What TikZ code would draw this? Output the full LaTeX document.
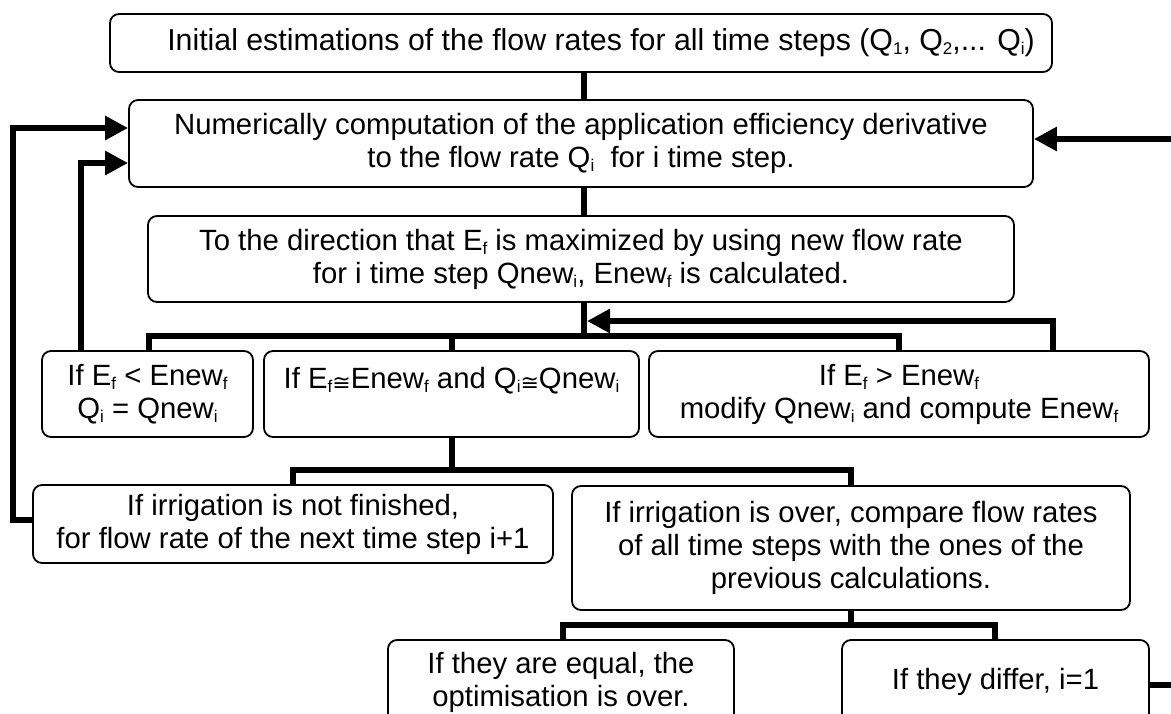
\documentclass[tikz,border=0pt]{standalone}
\usepackage{fontspec}
\setmainfont{Liberation Sans}
\newfontfamily\djv{DejaVu Sans}
\usetikzlibrary{arrows.meta}
\newcommand\sbs[1]{\raisebox{-4pt}{\fontsize{17}{17}\selectfont #1}}
\newcommand\mycong{{\djv\fontsize{22}{22}\selectfont\raisebox{-2pt}{≅}}}
\tikzset{
  box/.style={draw, line width=1.8pt, rounded corners=9pt, inner sep=0pt, align=center,
    font=\fontsize{29.3}{33}\selectfont},
  tree/.style={line width=5.5pt},
  loop/.style={line width=6pt, -{Triangle[length=23pt,width=23pt]}},
}
\begin{document}
\begin{tikzpicture}[x=1pt,y=-1pt]
\useasboundingbox (0,0) rectangle (1171,713);
\clip (0,0) rectangle (1171,713);
\fill[white] (0,0) rectangle (1171,713);
% nodes
\node[box, minimum width=942pt, minimum height=58pt, font=\fontsize{30.3}{33}\selectfont] (b1) at (581,43)
  {\hspace*{40pt}Initial estimations of the flow rates for all time steps (Q\sbs{1}, Q\sbs{2},... Q\sbs{i})};
\node[box, minimum width=904pt, minimum height=87pt] (b2) at (581,143.5)
  {Numerically computation of the application efficiency derivative\\ to the flow rate Q\sbs{i}\ \ for i time step.};
\node[box, minimum width=866pt, minimum height=86pt] (b3) at (581,259)
  {To the direction that E\sbs{f} is maximized by using new flow rate\\ for i time step Qnew\sbs{i}, Enew\sbs{f} is calculated.};
\node[box, minimum width=211pt, minimum height=86pt] (b4) at (147.5,394)
  {If E\sbs{f} < Enew\sbs{f}\\ Q\sbs{i} = Qnew\sbs{i}};
\node[box, minimum width=375pt, minimum height=86pt] (b5) at (451.5,394)
  {If E\sbs{f}\mycong Enew\sbs{f} and Q\sbs{i}\mycong Qnew\sbs{i}\\ \mbox{}};
\node[box, minimum width=500pt, minimum height=86pt] (b6) at (899,394)
  {If E\sbs{f} > Enew\sbs{f}\\ modify Qnew\sbs{i} and compute Enew\sbs{f}};
\node[box, minimum width=520pt, minimum height=78pt] (b7) at (293,524)
  {If irrigation is not finished,\\ for flow rate of the next time step i+1};
\node[box, minimum width=558pt, minimum height=124pt] (b8) at (851,548)
  {If irrigation is over, compare flow rates\\ of all time steps with the ones of the\\ previous calculations.};
\node[box, minimum width=346pt, minimum height=84pt] (b9) at (561,682)
  {If they are equal, the\\ optimisation is over.};
\node[box, minimum width=307pt, minimum height=84pt] (b10) at (995.5,682)
  {If they differ, i=1};
% reference coordinates
\coordinate (xa) at (584,0);
\coordinate (xt) at (587,0);
\coordinate (x149) at (149,0);
\coordinate (x452) at (452,0);
\coordinate (x899) at (899,0);
\coordinate (x1053) at (1053,0);
\coordinate (x81) at (81,0);
\coordinate (x293) at (293,0);
\coordinate (x851) at (851,0);
\coordinate (x563) at (563,0);
\coordinate (x995) at (995,0);
\coordinate (y128) at (0,128);
\coordinate (y163) at (0,163);
\coordinate (y139) at (0,139);
\coordinate (y520) at (0,520);
\coordinate (y685) at (0,685);
\coordinate (y321) at (0,321);
% connectors
\draw[tree] (b1.south -| xa) -- (b2.north -| xa);
\draw[tree] (b2.south -| xa) -- (b3.north -| xa);
\draw[tree] (b3.south -| xa) -- (584,338.75);
\draw[tree] (b4.north -| x149) -- (149,336) -- (899,336) -- (b6.north -| x899);
\draw[tree] (b5.north -| x452) -- (452,336);
\draw[tree] (b5.south -| x452) -- (452,470);
\draw[tree] (b7.north -| x293) -- (293,470) -- (851,470) -- (b8.north -| x851);
\draw[tree] (b8.south -| x851) -- (851,625);
\draw[tree] (b9.north -| x563) -- (563,625) -- (995,625) -- (b10.north -| x995);
\draw[loop] (b6.north -| x1053) -- (1053,321) -- (xt |- y321);
\draw[loop] (b4.north -| x81) -- (81,163) -- (b2.west |- y163);
\draw[loop] (b7.west |- y520) -- (13,520) -- (13,128) -- (b2.west |- y128);
\draw[loop] (b10.east |- y685) -- (1195,685) -- (1195,139) -- (b2.east |- y139);
\end{tikzpicture}
\end{document}
